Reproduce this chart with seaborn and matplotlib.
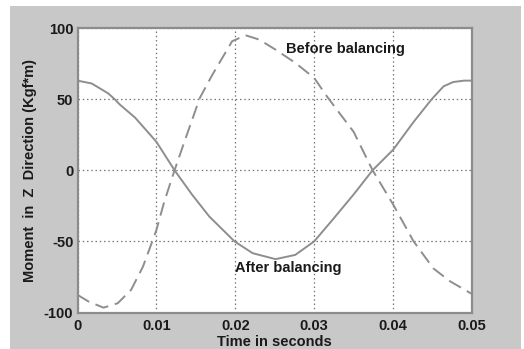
import matplotlib
matplotlib.use("Agg")
import matplotlib.pyplot as plt
import seaborn as sns
import pandas as pd
from matplotlib.patches import Rectangle

# --- data ---
after_t = [0, 0.0018, 0.0039, 0.0047, 0.0054, 0.0073, 0.01, 0.0123, 0.0145, 0.0167,
           0.0199, 0.0222, 0.0251, 0.0276, 0.03, 0.0323, 0.035, 0.0374, 0.04, 0.0426,
           0.0449, 0.0464, 0.0476, 0.049, 0.05]
after_v = [63, 61, 54, 50, 46, 37, 20, 0, -17, -32.5,
           -50, -58.3, -62.5, -59.5, -50, -35, -17, 0, 14.4, 34,
           50, 59, 62, 63, 63]

before_t = [0, 0.0014, 0.0033, 0.0051, 0.0068, 0.0083, 0.0094, 0.01, 0.011, 0.0123,
            0.0138, 0.0155, 0.0171, 0.0186, 0.0196, 0.0213, 0.023, 0.0251, 0.0276, 0.03,
            0.0316, 0.0335, 0.035, 0.0374, 0.04, 0.0426, 0.0451, 0.0472, 0.05]
before_v = [-87.6, -92.3, -96.6, -93.5, -84, -67.7, -51.2, -42, -22, 0,
            24, 50.8, 67.2, 81.3, 90.7, 94.9, 91.9, 84.8, 75.5, 64.9,
            52, 38, 27, 0, -24, -50, -69, -78, -87]

x_ticks = [0, 0.01, 0.02, 0.03, 0.04, 0.05]
x_tick_labels = ["0", "0.01", "0.02", "0.03", "0.04", "0.05"]
y_ticks = [-100, -50, 0, 50, 100]
y_tick_labels = ["-100", "-50", "0", "50", "100"]

df = pd.concat([
    pd.DataFrame({"t": after_t, "v": after_v, "series": "After balancing"}),
    pd.DataFrame({"t": before_t, "v": before_v, "series": "Before balancing"}),
])

sns.set_style("white")
plt.rcParams["font.family"] = ["Liberation Sans", "DejaVu Sans"]

fig = plt.figure(figsize=(5.24, 3.49), dpi=100, facecolor="white")
bg = Rectangle((10 / 524, 0), (521 - 10) / 524, (349 - 6) / 349,
               transform=fig.transFigure, facecolor="#c8c8c8",
               edgecolor="none", zorder=-10)
fig.add_artist(bg)
ax = fig.add_axes([77.5 / 524, 1 - 312.5 / 349, (472 - 77.5) / 524, (312.5 - 28) / 349])
ax.set_zorder(1)
ax.set_facecolor("white")

line_col = "#8e8e8e"
sns.lineplot(data=df, x="t", y="v", hue="series", style="series",
             palette={"After balancing": line_col, "Before balancing": line_col},
             dashes={"After balancing": "", "Before balancing": (7, 3.5)},
             linewidth=1.4, legend=False, ax=ax, sort=False)

ax.set_xlim(0, 0.05)
ax.set_ylim(-100, 100)
ax.set_xticks(x_ticks)
ax.set_xticklabels(x_tick_labels)
ax.set_yticks(y_ticks)
ax.set_yticklabels(y_tick_labels)
ax.grid(True, linestyle=(0, (1.2, 2.2)), color="#777777", linewidth=0.9)
ax.set_axisbelow(True)

for s in ax.spines.values():
    s.set_color("#8c8c8c")
    s.set_linewidth(1.6)

ax.tick_params(axis="both", direction="in", length=3, color="#8c8c8c",
               labelsize=10.5, labelcolor="#1a1a1a", pad=3)
ax.tick_params(axis="x", pad=5)
for lab in ax.get_xticklabels() + ax.get_yticklabels():
    lab.set_fontweight("bold")

ax.set_xlabel("Time in seconds", fontsize=10.5, fontweight="bold", color="#1a1a1a", labelpad=1)
ax.set_ylabel("Moment  in  Z  Direction (Kgf*m)", fontsize=10.5, fontweight="bold",
              color="#1a1a1a", labelpad=5)

ax.text(0.0264, 85, "Before balancing", fontsize=10.5, fontweight="bold",
        color="#1a1a1a", ha="left", va="center")
ax.text(0.0200, -69, "After balancing", fontsize=10.5, fontweight="bold",
        color="#1a1a1a", ha="left", va="center")

fig.savefig("out.png", dpi=100, facecolor="white")
